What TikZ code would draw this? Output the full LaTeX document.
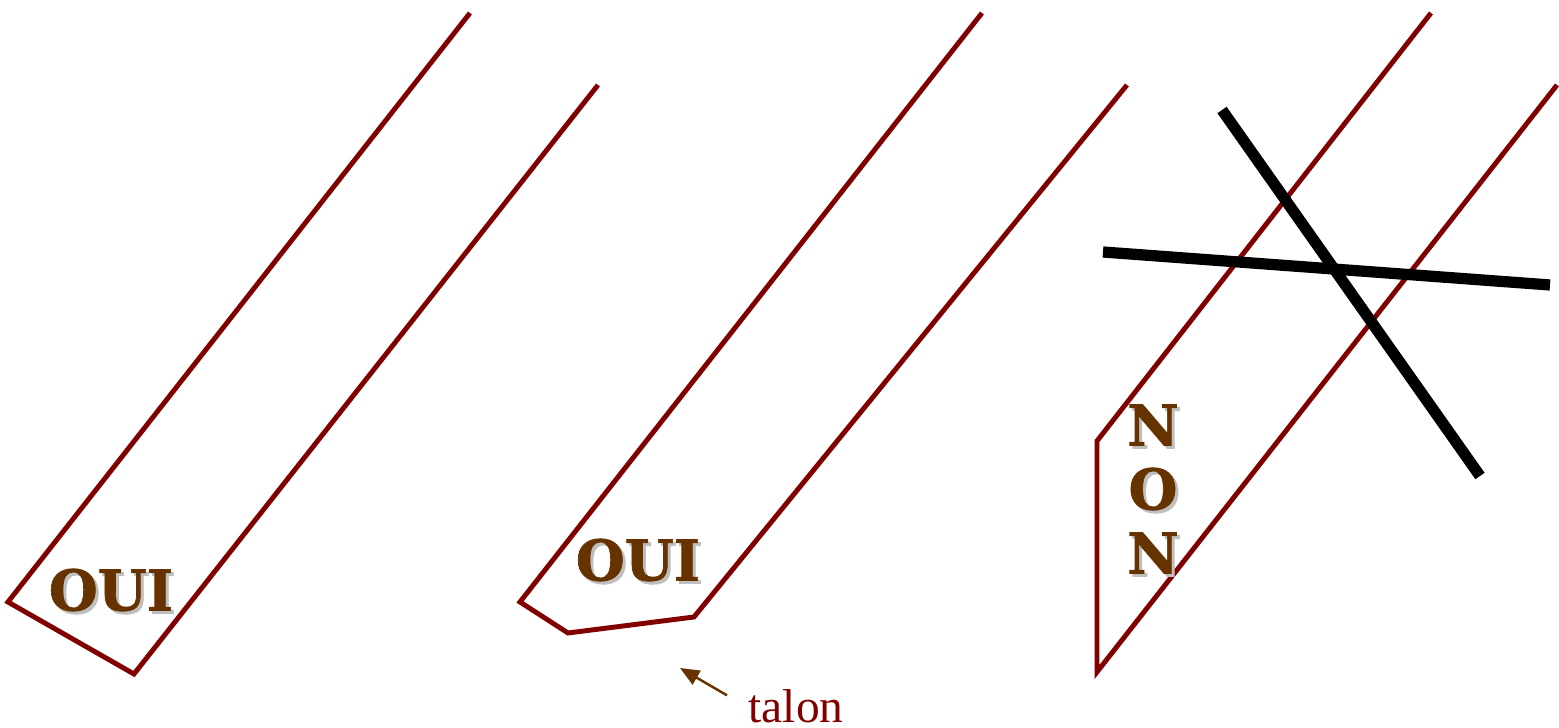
\documentclass[tikz,border=0pt]{standalone}
\usepackage{fontspec}
\setmainfont{Liberation Serif}
\newfontfamily\lblfont[BoldFeatures = {FakeBold = 1.2}]{DejaVu Serif}
\usetikzlibrary{arrows.meta}
\definecolor{maroon}{RGB}{128,0,0}
\definecolor{brun}{RGB}{102,51,0}
\begin{document}
\begin{tikzpicture}[x = .01cm, y = -.01cm,
    bord/.style = {maroon, line width = 1.4pt, line join = miter},
    croix/.style = {black, line width = 3.2pt},
    lbl/.style = {brun, font = \lblfont\bfseries\fontsize{16}{16}\selectfont, inner sep = 0},
    ombre/.style = {lbl, black!25}]
      \useasboundingbox (0,0) rectangle (1559,728);
      % gauche
      \draw [bord] (470,13) -- (8,602) -- (134,674) -- (598,85);
      \node [ombre] at (114,593) {OUI};
      \node [lbl] (oui1) at (111,590) {OUI};
      % milieu, avec talon
      \draw [bord] (982,13) -- (520,602) -- (568,633) -- (694,617) -- (1127,85);
      \node [ombre] at (641,563) {OUI};
      \node [lbl] (oui2) at (638,560) {OUI};
      \node [maroon, font = \fontsize{13.5}{13.5}\selectfont, inner sep = 0, anchor = base west] (talon) at (748,723) {talon};
      \coordinate (pointe) at (680,668);
      \draw [brun, line width = .7pt, -{Triangle[length = 5.5pt, width = 4.5pt]}] ([shift = {(-21,6)}]talon.north west) -- (pointe);
      % droite
      \draw [bord] (1431,13) -- (1097,441) -- (1097,672) -- (1557,85);
      \foreach \lettre [count = \i] in {N,O,N} {
        \node [ombre] at (1156,364 + 64*\i) {\lettre};
        \node [lbl] (non\i) at (1153,361 + 64*\i) {\lettre};
      }
      \draw [croix] (1222,110) -- (1480,476);
      \draw [croix] (1103,252) -- (1550,285);
\end{tikzpicture}
\end{document}
